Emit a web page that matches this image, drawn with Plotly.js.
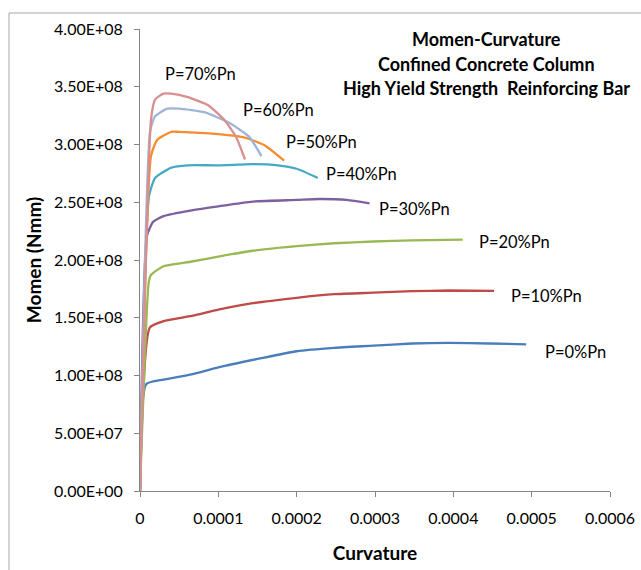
<!DOCTYPE html>
<html>
<head>
<meta charset="utf-8">
<script src="https://cdn.plot.ly/plotly-3.0.1.min.js"></script>
<style>html,body{margin:0;padding:0;background:#fff;}#chart{width:641px;height:570px;}</style>
</head>
<body>
<div id="chart"></div>
<script>
// Curvature (x) and Moment (y, Nmm), one pair of arrays per axial load level
const x_p0  = [0, 0.0000078, 0.00003, 0.000066, 0.0001, 0.000155, 0.0002, 0.000248, 0.000298, 0.000347, 0.000394, 0.000446, 0.000493];
const y_p0  = [0, 0.925e8, 0.965e8, 1.01e8, 1.07e8, 1.15e8, 1.21e8, 1.24e8, 1.258e8, 1.277e8, 1.283e8, 1.277e8, 1.27e8];

const x_p10 = [0, 0.0000125, 0.00003, 0.000066, 0.0001, 0.000144, 0.0002, 0.000248, 0.000298, 0.000347, 0.000394, 0.000452];
const y_p10 = [0, 1.415e8, 1.47e8, 1.516e8, 1.57e8, 1.626e8, 1.673e8, 1.704e8, 1.717e8, 1.73e8, 1.736e8, 1.733e8];

const x_p20 = [0, 0.000011, 0.000014, 0.00003, 0.000066, 0.0001, 0.000144, 0.0002, 0.000248, 0.000298, 0.000347, 0.000412];
const y_p20 = [0, 1.80e8, 1.87e8, 1.946e8, 1.987e8, 2.03e8, 2.08e8, 2.12e8, 2.145e8, 2.16e8, 2.17e8, 2.176e8];

const x_p30 = [0, 0.0000089, 0.0000167, 0.00003, 0.000066, 0.0001, 0.000144, 0.0002, 0.000228, 0.000264, 0.000293];
const y_p30 = [0, 2.21e8, 2.33e8, 2.38e8, 2.43e8, 2.465e8, 2.506e8, 2.52e8, 2.528e8, 2.52e8, 2.49e8];

const x_p40 = [0, 0.0000115, 0.0000193, 0.00004, 0.000061, 0.0001, 0.000144, 0.000176, 0.0002, 0.000227];
const y_p40 = [0, 2.553e8, 2.71e8, 2.8e8, 2.82e8, 2.82e8, 2.83e8, 2.82e8, 2.79e8, 2.71e8];

const x_p50 = [0, 0.000014, 0.0000219, 0.00004, 0.00005, 0.0001, 0.000134, 0.00016, 0.000184];
const y_p50 = [0, 2.9e8, 3.04e8, 3.11e8, 3.11e8, 3.09e8, 3.06e8, 2.99e8, 2.86e8];

const x_p60 = [0, 0.000013, 0.0000193, 0.000035, 0.00005, 0.000082, 0.000113, 0.000139, 0.000155];
const y_p60 = [0, 3.12e8, 3.245e8, 3.31e8, 3.31e8, 3.28e8, 3.19e8, 3.07e8, 2.9e8];

const x_p70 = [0, 0.000014, 0.0000193, 0.00003, 0.00004, 0.000061, 0.000087, 0.000108, 0.000123, 0.000134];
const y_p70 = [0, 3.21e8, 3.39e8, 3.44e8, 3.44e8, 3.41e8, 3.34e8, 3.21e8, 3.06e8, 2.87e8];

const seriesNames = ["P=0%Pn","P=10%Pn","P=20%Pn","P=30%Pn","P=40%Pn","P=50%Pn","P=60%Pn","P=70%Pn"];
const xTickVals = [0, 0.0001, 0.0002, 0.0003, 0.0004, 0.0005, 0.0006];
const xTickText = ["0","0.0001","0.0002","0.0003","0.0004","0.0005","0.0006"];
const yTickVals = [0, 0.5e8, 1e8, 1.5e8, 2e8, 2.5e8, 3e8, 3.5e8, 4e8];
const yTickText = ["0.00E+00","5.00E+07","1.00E+08","1.50E+08","2.00E+08","2.50E+08","3.00E+08","3.50E+08","4.00E+08"];
// label anchor points (curvature, moment) for the curve labels
const labelX = [0.000514, 0.000471, 0.000430, 0.0003024, 0.0002347, 0.0001836, 0.0001287, 0.0000299];
const labelY = [1.205e8, 1.690e8, 2.158e8, 2.444e8, 2.747e8, 3.024e8, 3.302e8, 3.608e8];
const titleLines = ["Momen-Curvature","Confined Concrete Column","High Yield Strength  Reinforcing Bar"];

const xs = [x_p0, x_p10, x_p20, x_p30, x_p40, x_p50, x_p60, x_p70];
const ys = [y_p0, y_p10, y_p20, y_p30, y_p40, y_p50, y_p60, y_p70];
const colors = ["#4A7EBB","#BE4B48","#98B954","#7D60A0","#46AAC5","#F68C30","#9DB5DA","#D98F8F"];

const FONT = "Lato, 'Liberation Sans', sans-serif";

const traces = xs.map((xv, i) => ({
  x: xv, y: ys[i], type: "scatter", mode: "lines", name: seriesNames[i],
  line: {color: colors[i], width: 2.3, shape: "spline", smoothing: 0.5},
  hoverinfo: "skip"
}));

const annotations = seriesNames.map((n, i) => ({
  text: n, x: labelX[i], y: labelY[i], xref: "x", yref: "y",
  xanchor: "left", yanchor: "middle", showarrow: false,
  font: {family: FONT, size: 16.5, color: "#000"}
}));
const titleY = [39, 64, 88];
titleLines.forEach((t, i) => {
  annotations.push({
    text: "<b>" + t + "</b>", xref: "paper", yref: "paper",
    x: (486.5 - 140) / 470, y: (491 - titleY[i]) / 462,
    xanchor: "center", yanchor: "middle", showarrow: false,
    font: {family: FONT, size: 18, color: "#000"}
  });
});

const layout = {
  width: 641, height: 570,
  margin: {l: 140, r: 31, t: 29, b: 79, pad: 0},
  paper_bgcolor: "#fff", plot_bgcolor: "#fff",
  showlegend: false,
  font: {family: FONT, size: 16, color: "#000"},
  xaxis: {
    range: [0, 0.0006], tickvals: xTickVals, ticktext: xTickText,
    showgrid: false, zeroline: false, showline: true, linecolor: "#868686", linewidth: 1,
    ticks: "outside", ticklen: 5, tickcolor: "#868686", ticklabelstandoff: 8,
    tickfont: {family: FONT, size: 16, color: "#000"},
    title: {text: "<b>Curvature</b>", font: {family: FONT, size: 19, color: "#000"}, standoff: 20}
  },
  yaxis: {
    range: [0, 4e8], tickvals: yTickVals, ticktext: yTickText,
    showgrid: false, zeroline: false, showline: true, linecolor: "#868686", linewidth: 1,
    ticks: "outside", ticklen: 5, tickcolor: "#868686", ticklabelstandoff: 8,
    tickfont: {family: FONT, size: 16, color: "#000"},
    title: {text: "<b>Momen (Nmm)</b>", font: {family: FONT, size: 19, color: "#000"}, standoff: 7}
  },
  annotations: annotations,
  shapes: [{
    type: "rect", xref: "paper", yref: "paper",
    x0: (9 - 140) / 470, x1: (660 - 140) / 470,
    y0: (491 - 590) / 462, y1: (491 - 13) / 462,
    line: {color: "#A6A6A6", width: 1}, fillcolor: "rgba(0,0,0,0)", layer: "below"
  }]
};

Plotly.newPlot("chart", traces, layout, {staticPlot: true, displayModeBar: false});
</script>
</body>
</html>
